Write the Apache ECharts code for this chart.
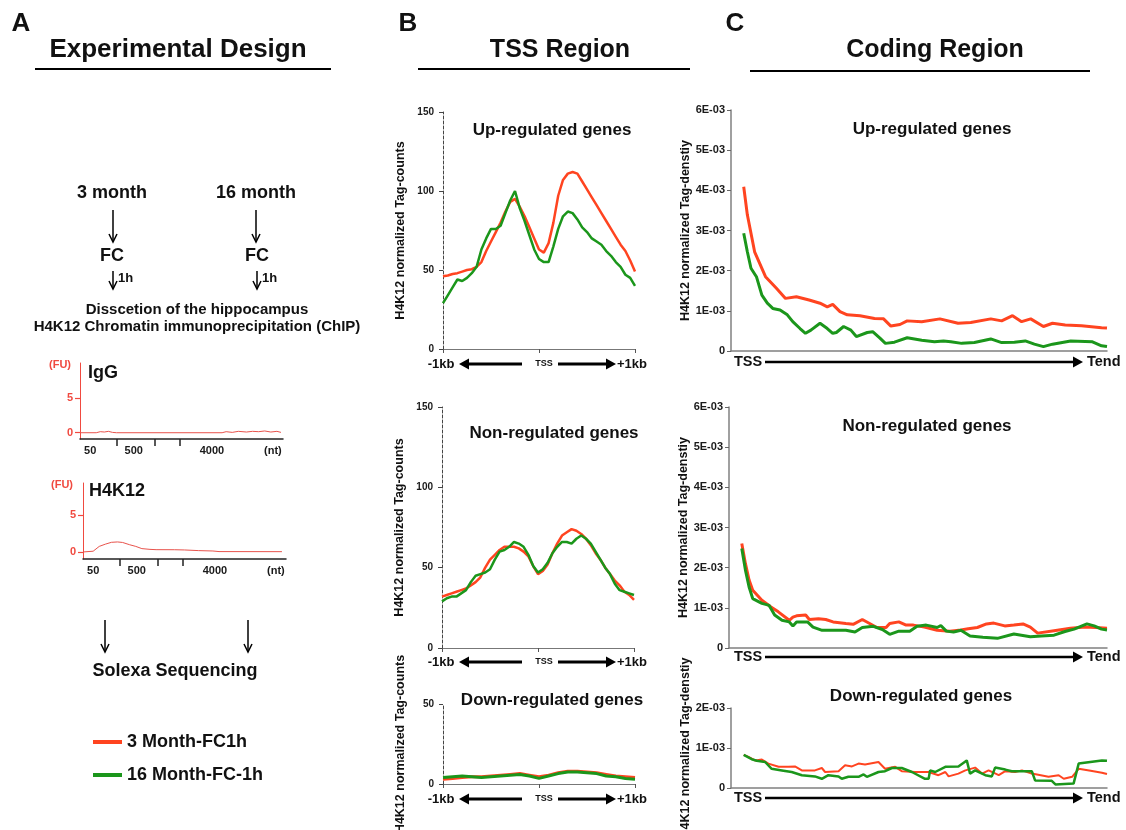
<!DOCTYPE html>
<html>
<head>
<meta charset="utf-8">
<script src="https://cdn.jsdelivr.net/npm/echarts@6/dist/echarts.min.js"></script>
<style>
html, body { margin: 0; padding: 0; background: #fff; }
#chart { width: 1126px; height: 830px; }
</style>
</head>
<body>
<div id="chart"></div>
<script>
var FONT = '"Liberation Sans", Arial, sans-serif';
var RED = '#ff4420';
var GREEN = '#1b961b';
var TRACE = '#e8534c';
var seriesNames = ['3 Month-FC1h', '16 Month-FC-1h'];

// bioanalyzer traces (x = position on the gel scale, 0-100; y = FU)
var bioTickPos = [18, 37, 49];
var bioLabelPos = [5, 26.5, 65, 95];
var bioLabels = ['50', '500', '4000', '(nt)'];
var iggTrace = [[0, 0], [8, 0], [10, 0.15], [12, 0.1], [14, 0.2], [16, 0.05], [18, 0], [70, 0], [72, 0.15],
    [75, 0.05], [78, 0.2], [82, 0.1], [85, 0.2], [88, 0.15], [91, 0.25], [94, 0.1], [97, 0.2], [99, 0.05]];
var h4k12Trace = [[0, 0], [5, 0.1], [8, 0.75], [11, 1.05], [14, 1.3], [17, 1.35], [19.5, 1.28], [23, 0.97],
    [26, 0.75], [29, 0.45], [33, 0.35], [36, 0.31], [45, 0.3], [50, 0.27], [57, 0.18], [64, 0.13], [67, 0.05], [98, 0.04]];

// TSS region (bp from TSS)
var tssX = [-1000, -950, -900, -850, -800, -750, -700, -650, -600, -550, -500, -450, -400, -350, -300, -250, -200,
    -150, -100, -50, 0, 50, 100, 150, 200, 250, 300, 350, 400, 450, 500, 550, 600, 650, 700, 750, 800, 850, 900, 950, 1000];
var tssUpRed = [46, 46.5, 47.5, 48, 49, 50, 50.5, 52, 55, 62, 68, 74, 80, 87, 93, 95, 90, 84, 77, 70, 63, 61, 67, 80,
    97, 107, 111, 112, 111, 106, 101, 96, 91, 86, 81, 76, 71, 66, 62, 56, 49];
var tssUpGreen = [29, 34, 39, 44, 43, 45, 48, 52, 63, 70, 76, 76, 78, 86, 94, 100, 89, 81, 72, 63, 57, 55, 55, 65,
    76, 84, 87, 86, 82, 77, 74, 70, 68, 66, 62, 59, 55, 52, 47, 45, 40];
var tssNonRed = [32, 33, 34, 35, 36, 37, 39, 41, 44, 50, 55, 58, 61, 63, 63, 63, 62, 60, 57, 51, 46, 48, 52, 59,
    65, 70, 72, 74, 73, 71, 68, 64, 59, 55, 50, 46, 42, 39, 35, 33, 30];
var tssNonGreen = [29, 31, 32, 32, 34, 36, 41, 45, 46, 47, 49, 55, 60, 61, 63, 66, 65, 63, 58, 51, 47, 49, 53, 59,
    63, 66, 66, 65, 68, 70, 68, 65, 60, 55, 50, 46, 40, 36, 35, 34, 33];
var tssDownX = [-1000, -900, -800, -700, -600, -500, -400, -300, -200, -100, 0, 100, 200, 300, 400, 500, 600, 700, 800, 900, 1000];
var tssDownRed = [3, 3.5, 4, 4.5, 4.5, 5, 5.5, 6, 6.5, 5.5, 4.5, 5.5, 7, 8, 8, 7.5, 7, 6, 5, 4.5, 4];
var tssDownGreen = [4, 4.5, 5, 4.5, 4, 4.5, 5, 5.5, 6, 5, 3.5, 5, 6.5, 7.5, 7.5, 7, 6.5, 5, 4.5, 3.5, 3];

// coding region ([% of gene body from TSS to Tend, tag density in E-03])
var codUpRed = [[0, 4.09], [1, 3.39], [3, 2.47], [6, 1.85], [9, 1.56], [11.5, 1.31], [14.5, 1.35], [18, 1.27],
    [21, 1.19], [23, 1.10], [24.5, 1.16], [26.5, 0.98], [28.5, 0.90], [32, 0.88], [36, 0.81], [38.5, 0.80],
    [40.5, 0.62], [43, 0.66], [45, 0.75], [49, 0.73], [54, 0.80], [59, 0.69], [62.5, 0.71], [68, 0.80], [71, 0.75],
    [74, 0.88], [76.5, 0.73], [79, 0.80], [82.5, 0.61], [85, 0.69], [88.5, 0.65], [93, 0.63], [98.5, 0.58], [100, 0.57]];
var codUpGreen = [[0, 2.93], [1, 2.47], [2, 2.06], [3.5, 1.85], [5, 1.39], [6.5, 1.19], [8, 1.06], [10, 1.02],
    [12, 0.90], [13.5, 0.73], [15.5, 0.56], [17, 0.44], [18.5, 0.52], [19, 0.48], [21, 0.69], [23, 0.56], [24.5, 0.44],
    [25.5, 0.46], [27.5, 0.61], [29.5, 0.52], [31, 0.36], [34, 0.46], [35.5, 0.48], [37.5, 0.32], [39, 0.19],
    [41.5, 0.22], [45, 0.33], [49, 0.27], [52.5, 0.23], [55, 0.25], [57, 0.23], [60, 0.19], [63.5, 0.21], [68, 0.30],
    [71, 0.21], [74.5, 0.22], [77.5, 0.25], [80, 0.17], [82.5, 0.11], [85, 0.17], [90, 0.25], [96, 0.23], [98.5, 0.13], [100, 0.11]];
var codNonRed = [[0, 2.60], [1, 2.10], [2, 1.69], [3, 1.44], [5.5, 1.19], [8, 1.02], [10, 0.90], [13, 0.69],
    [14, 0.77], [15, 0.80], [17.5, 0.82], [18.5, 0.71], [21, 0.73], [23, 0.71], [25, 0.65], [28.5, 0.61], [30.5, 0.59],
    [33, 0.71], [35, 0.61], [37, 0.51], [39.5, 0.51], [40.5, 0.61], [43, 0.65], [45, 0.57], [47, 0.57], [50, 0.52],
    [53.5, 0.44], [57, 0.42], [60, 0.45], [62, 0.48], [64.5, 0.51], [67, 0.60], [69, 0.62], [72, 0.55], [74.5, 0.57],
    [77, 0.60], [79, 0.52], [81, 0.37], [85.5, 0.43], [90, 0.49], [94, 0.52], [97, 0.51], [100, 0.49]];
var codNonGreen = [[0, 2.48], [1, 1.94], [2, 1.52], [3, 1.23], [5.5, 1.11], [7.5, 1.06], [9, 0.82], [11, 0.69],
    [13, 0.65], [14, 0.55], [15, 0.65], [18, 0.65], [19.5, 0.52], [22, 0.44], [26, 0.44], [28.5, 0.44], [31, 0.40],
    [33, 0.51], [36, 0.54], [38.5, 0.46], [40.5, 0.34], [43, 0.42], [46, 0.42], [48, 0.54], [50.5, 0.57], [53.5, 0.51],
    [54.5, 0.56], [56, 0.42], [58, 0.40], [60, 0.44], [62.5, 0.30], [66, 0.27], [70, 0.24], [74.5, 0.35], [79, 0.28],
    [82, 0.30], [85.5, 0.32], [88.5, 0.41], [91, 0.47], [94.5, 0.60], [96.5, 0.55], [98.5, 0.47], [100, 0.45]];
var codDownRed = [[0, 0.83], [1.3, 0.78], [3.1, 0.69], [5, 0.71], [6.8, 0.61], [9.6, 0.53], [12.3, 0.53], [14.1, 0.54],
    [16, 0.44], [19.6, 0.44], [21.5, 0.50], [22.4, 0.40], [26.1, 0.42], [27.9, 0.57], [29.8, 0.54], [31.6, 0.61],
    [33.4, 0.59], [37.1, 0.65], [38.9, 0.48], [41.7, 0.53], [43.5, 0.42], [47.2, 0.40], [50.9, 0.40], [53.6, 0.32],
    [55.5, 0.40], [56.4, 0.29], [59.1, 0.36], [61, 0.44], [63.7, 0.51], [65.6, 0.36], [67.4, 0.44], [70.2, 0.32],
    [72, 0.42], [74.7, 0.40], [76.6, 0.44], [79.3, 0.36], [83.9, 0.28], [86.7, 0.32], [88.1, 0.23], [90.4, 0.28],
    [92.2, 0.48], [95.5, 0.43], [98.6, 0.38], [100, 0.35]];
var codDownGreen = [[0, 0.83], [2.2, 0.72], [3.6, 0.68], [5.9, 0.65], [7.7, 0.48], [10.5, 0.44], [13.2, 0.40],
    [16, 0.32], [19.6, 0.29], [21.5, 0.23], [23.3, 0.32], [26.1, 0.29], [27, 0.23], [28.8, 0.28], [31.6, 0.28],
    [33, 0.34], [33.9, 0.28], [37.1, 0.40], [38.9, 0.42], [40.8, 0.50], [43.5, 0.50], [46.3, 0.40], [49.9, 0.23],
    [50.9, 0.23], [51.3, 0.44], [52.7, 0.40], [55.5, 0.53], [59.1, 0.54], [61.4, 0.69], [62.3, 0.36], [63.7, 0.44],
    [66.5, 0.32], [68.3, 0.29], [69.2, 0.51], [72, 0.46], [73.8, 0.42], [79.3, 0.42], [80.2, 0.19], [84.8, 0.18],
    [85.8, 0.09], [90.8, 0.11], [92.2, 0.61], [98.6, 0.69], [100, 0.68]];

var chart = echarts.init(document.getElementById('chart'));

function pairs(xs, ys) {
    return xs.map(function (x, i) { return [x, ys[i]]; });
}

var grids = [
    { left: 80, top: 363, width: 203, height: 76 },   // IgG
    { left: 83, top: 483, width: 203, height: 76 },   // H4K12
    { left: 443, top: 112, width: 192, height: 237 }, // TSS up
    { left: 442, top: 407, width: 192, height: 241 }, // TSS non
    { left: 443, top: 704, width: 192, height: 80 },  // TSS down
    { left: 731, top: 110, width: 376, height: 241 }, // coding up
    { left: 729, top: 407, width: 378, height: 241 }, // coding non
    { left: 731, top: 708, width: 376, height: 80 }   // coding down
].map(function (g) { g.outerBoundsMode = 'none'; g.containLabel = false; return g; });

var boldLabel = { fontFamily: FONT, fontWeight: 'bold', color: '#1a1a1a' };

function bioX(gi) {
    return {
        type: 'value', gridIndex: gi, min: 0, max: 100,
        axisLine: { show: true, onZero: false, lineStyle: { color: '#222', width: 1.5 } },
        axisTick: { show: true, customValues: bioTickPos, length: 7, lineStyle: { color: '#222', width: 1.5 } },
        axisLabel: Object.assign({
            customValues: bioLabelPos, fontSize: 11, margin: 6,
            formatter: function (v, i) { var k = bioLabelPos.indexOf(v); return bioLabels[k >= 0 ? k : i]; }
        }, boldLabel),
        splitLine: { show: false }
    };
}
function bioY(gi, min, max) {
    return {
        type: 'value', gridIndex: gi, min: min, max: max,
        axisLine: { show: true, onZero: false, lineStyle: { color: '#f04a40', width: 1 } },
        axisTick: { show: true, customValues: [0, 5], length: 5, lineStyle: { color: '#f04a40', width: 1.2 } },
        axisLabel: { customValues: [0, 5], fontSize: 11, margin: 7, fontFamily: FONT, fontWeight: 'bold', color: '#f04a40' },
        splitLine: { show: false }
    };
}
function tssXAxis(gi) {
    return {
        type: 'value', gridIndex: gi, min: -1000, max: 1000,
        axisLine: { show: true, onZero: false, lineStyle: { color: '#777', width: 1 } },
        axisTick: { show: true, customValues: [-1000, 0, 1000], length: 4, lineStyle: { color: '#555' } },
        axisLabel: { show: false },
        splitLine: { show: false }
    };
}
function tssYAxis(gi, max) {
    return {
        type: 'value', gridIndex: gi, min: 0, max: max, interval: 50,
        name: 'H4K12 normalized Tag-counts', nameLocation: 'middle', nameGap: 36,
        nameTextStyle: { fontFamily: FONT, fontWeight: 'bold', fontSize: 12.5, color: '#111' },
        axisLine: { show: true, onZero: false, lineStyle: { color: '#444', width: 1, type: [3, 2] } },
        axisTick: { show: true, length: 4, lineStyle: { color: '#444' } },
        axisLabel: Object.assign({ fontSize: 10, margin: 9 }, boldLabel),
        splitLine: { show: false }
    };
}
function codXAxis(gi) {
    return {
        type: 'value', gridIndex: gi, min: -3.5, max: 100,
        axisLine: { show: true, onZero: false, lineStyle: { color: '#808080', width: 1.5 } },
        axisTick: { show: false }, axisLabel: { show: false }, splitLine: { show: false }
    };
}
function codYAxis(gi, max) {
    return {
        type: 'value', gridIndex: gi, min: 0, max: max, interval: 1,
        name: 'H4K12 normalized Tag-denstiy', nameLocation: 'middle', nameGap: 34,
        nameTextStyle: { fontFamily: FONT, fontWeight: 'bold', fontSize: 12.5, color: '#111' },
        axisLine: { show: true, onZero: false, lineStyle: { color: '#808080', width: 1.5 } },
        axisTick: { show: true, length: 4, lineStyle: { color: '#666' } },
        axisLabel: Object.assign({
            fontSize: 11, margin: 6,
            formatter: function (v) { return v === 0 ? '0' : v + 'E-03'; }
        }, boldLabel),
        splitLine: { show: false }
    };
}

var xAxes = [bioX(0), bioX(1), tssXAxis(2), tssXAxis(3), tssXAxis(4), codXAxis(5), codXAxis(6), codXAxis(7)];
var yAxes = [bioY(0, -0.9, 10), bioY(1, -0.95, 9.3), tssYAxis(2, 150), tssYAxis(3, 150), tssYAxis(4, 50),
    codYAxis(5, 6), codYAxis(6, 6), codYAxis(7, 2)];

function line(name, gi, data, color, width) {
    return {
        name: name, type: 'line', xAxisIndex: gi, yAxisIndex: gi, data: data,
        showSymbol: false, symbol: 'none', silent: true,
        lineStyle: { color: color, width: width }, itemStyle: { color: color }
    };
}

var series = [
    line('IgG', 0, iggTrace, TRACE, 1),
    line('H4K12', 1, h4k12Trace, TRACE, 1),
    line(seriesNames[0], 2, pairs(tssX, tssUpRed), RED, 2.5),
    line(seriesNames[1], 2, pairs(tssX, tssUpGreen), GREEN, 2.5),
    line(seriesNames[0], 3, pairs(tssX, tssNonRed), RED, 2.5),
    line(seriesNames[1], 3, pairs(tssX, tssNonGreen), GREEN, 2.5),
    line(seriesNames[0], 4, pairs(tssDownX, tssDownRed), RED, 3),
    line(seriesNames[1], 4, pairs(tssDownX, tssDownGreen), GREEN, 3),
    line(seriesNames[0], 5, codUpRed, RED, 3),
    line(seriesNames[1], 5, codUpGreen, GREEN, 3),
    line(seriesNames[0], 6, codNonRed, RED, 3),
    line(seriesNames[1], 6, codNonGreen, GREEN, 3),
    line(seriesNames[0], 7, codDownRed, RED, 2),
    line(seriesNames[1], 7, codDownGreen, GREEN, 2.5)
];

// text, rules and arrows of the figure
var graphics = [];
function addText(x, y, s, size, align, color) {
    graphics.push({
        type: 'text', x: x, y: y, silent: true,
        style: {
            text: s, fontSize: size, fontWeight: 'bold', fontFamily: FONT, fill: color || '#111',
            align: align || 'center', verticalAlign: 'middle'
        }
    });
}
function addLine(x1, y1, x2, y2, w) {
    graphics.push({ type: 'line', silent: true, shape: { x1: x1, y1: y1, x2: x2, y2: y2 }, style: { stroke: '#000', lineWidth: w } });
}
function addArrowH(x1, x2, y, w, head) {
    var dir = x2 > x1 ? 1 : -1;
    addLine(x1, y, x2 - dir * head, y, w);
    graphics.push({
        type: 'polygon', silent: true,
        shape: { points: [[x2, y], [x2 - dir * head, y - head * 0.55], [x2 - dir * head, y + head * 0.55]] },
        style: { fill: '#000' }
    });
}
function addArrowDown(x, y1, y2) {
    addLine(x, y1, x, y2, 1.5);
    graphics.push({
        type: 'polyline', silent: true,
        shape: { points: [[x - 4, y2 - 8], [x, y2], [x + 4, y2 - 8]] },
        style: { stroke: '#000', lineWidth: 1.5, fill: null }
    });
}

addText(21, 24, 'A', 26);
addText(408, 24, 'B', 26);
addText(735, 24, 'C', 26);
addText(178, 50, 'Experimental Design', 26);
addText(560, 50, 'TSS Region', 25);
addText(935, 50, 'Coding Region', 25);
addLine(35, 69, 331, 69, 2);
addLine(418, 69, 690, 69, 2);
addLine(750, 71, 1090, 71, 2);

addText(112, 193, '3 month', 18);
addText(256, 193, '16 month', 18);
addArrowDown(113, 210, 242);
addArrowDown(256, 210, 242);
addText(112, 256, 'FC', 18);
addText(257, 256, 'FC', 18);
addArrowDown(113, 271, 289);
addArrowDown(257, 271, 289);
addText(118, 278, '1h', 13, 'left');
addText(262, 278, '1h', 13, 'left');
addText(197, 310, 'Disscetion of the hippocampus', 15);
addText(197, 327, 'H4K12 Chromatin immunoprecipitation (ChIP)', 15);

addText(60, 365, '(FU)', 11, 'center', '#f04a40');
addText(88, 373, 'IgG', 18, 'left');
addText(62, 485, '(FU)', 11, 'center', '#f04a40');
addText(89, 491, 'H4K12', 18, 'left');

addArrowDown(105, 620, 652);
addArrowDown(248, 620, 652);
addText(175, 671, 'Solexa Sequencing', 18);

[364, 662, 799].forEach(function (y) {
    addText(441, y, '-1kb', 13);
    addArrowH(522, 459, y, 3, 10);
    addText(544, y, 'TSS', 9);
    addArrowH(558, 616, y, 3, 10);
    addText(632, y, '+1kb', 13);
});
[362, 657, 798].forEach(function (y) {
    addText(734, y, 'TSS', 14.5, 'left');
    addArrowH(765, 1083, y, 2.5, 10);
    addText(1087, y, 'Tend', 14.5, 'left');
});

addText(552, 130, 'Up-regulated genes', 17);
addText(554, 433, 'Non-regulated genes', 17);
addText(552, 700, 'Down-regulated genes', 17);
addText(932, 129, 'Up-regulated genes', 17);
addText(927, 426, 'Non-regulated genes', 17);
addText(921, 696, 'Down-regulated genes', 17);

var option = {
    animation: false,
    backgroundColor: '#fff',
    grid: grids,
    xAxis: xAxes,
    yAxis: yAxes,
    legend: {
        data: seriesNames, left: 93, top: 733, orient: 'vertical', padding: 0,
        icon: 'rect', itemWidth: 29, itemHeight: 4, itemGap: 15, selectedMode: false,
        textStyle: { fontFamily: FONT, fontWeight: 'bold', fontSize: 18, color: '#111' }
    },
    series: series,
    graphic: graphics
};

chart.setOption(option);
</script>
</body>
</html>
